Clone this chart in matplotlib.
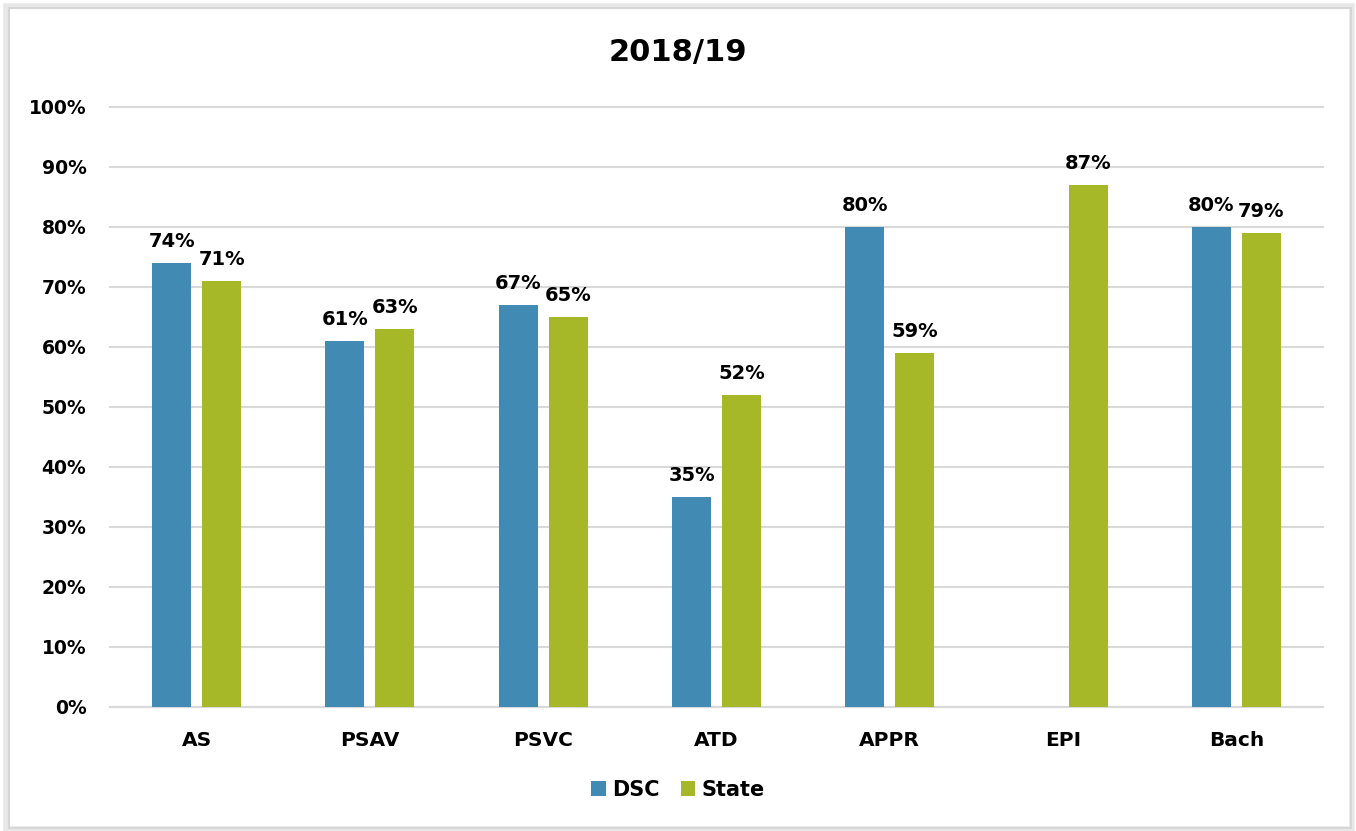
import numpy as np
import matplotlib
matplotlib.use("Agg")
import matplotlib.pyplot as plt
from matplotlib.patches import Rectangle

categories = ["AS", "PSAV", "PSVC", "ATD", "APPR", "EPI", "Bach"]
dsc = [74, 61, 67, 35, 80, np.nan, 80]
state = [71, 63, 65, 52, 59, 87, 79]
series_names = ["DSC", "State"]
colors = ["#418AB3", "#A6B727"]
yticks = list(range(0, 101, 10))

plt.rcParams['font.family'] = ['DejaVu Sans']
fig = plt.figure(figsize=(13.56, 8.31), dpi=100)
ax = fig.add_axes([110/1356, 1-707/831, 1213/1356, 600/831])

x = np.arange(len(categories))
w = 0.225
off = 0.144
b1 = ax.bar(x - off, dsc, w, color=colors[0], label=series_names[0], zorder=3)
b2 = ax.bar(x + off, state, w, color=colors[1], label=series_names[1], zorder=3)

for xs, vals in [(x - off, dsc), (x + off, state)]:
    for xi, v in zip(xs, vals):
        if np.isnan(v):
            continue
        ax.text(xi, v + 2.0, f"{v:.0f}%", ha="center", va="bottom",
                fontsize=14, fontweight="bold", color="black", zorder=4)

ax.set_xlim(-0.5, len(categories) - 0.5)
ax.set_ylim(0, 100)
ax.set_yticks(yticks)
ax.set_yticklabels([f"{t}%" for t in yticks], fontsize=13.5, fontweight="bold")
ax.set_xticks(x)
ax.set_xticklabels(categories, fontsize=14.5, fontweight="bold")
ax.tick_params(axis="both", length=0)
ax.tick_params(axis="y", pad=17)
ax.tick_params(axis="x", pad=17)
ax.grid(axis="y", color="#D9D9D9", linewidth=1.5, zorder=0)
for gl in ax.get_ygridlines():
    gl.set_clip_on(False)
for s in ["top", "right", "left"]:
    ax.spines[s].set_visible(False)
ax.spines["bottom"].set_color("#D9D9D9")
ax.spines["bottom"].set_linewidth(1.5)

fig.text(0.5, 1-52/831, "2018/19", ha="center", va="center",
         fontsize=22, fontweight="bold")

leg = fig.legend(handles=[b1, b2], labels=series_names, loc="center",
                 bbox_to_anchor=(0.5, 1-790/831), ncol=2, frameon=False,
                 prop={"size": 15, "weight": "bold"}, handlelength=0.7,
                 handleheight=0.7, handletextpad=0.3, columnspacing=1.0)

# border with shadow
fig.patches.append(Rectangle((6/1356, 2/831), 1346/1356, 823/831,
                             transform=fig.transFigure, facecolor="none",
                             edgecolor="#E8E8E8", linewidth=4, zorder=-1))
fig.patches.append(Rectangle((9/1356, 3/831), 1342/1356, 820/831,
                             transform=fig.transFigure, facecolor="none",
                             edgecolor="#D6D6D6", linewidth=1.5, zorder=0))

fig.savefig("out.png", dpi=100)
